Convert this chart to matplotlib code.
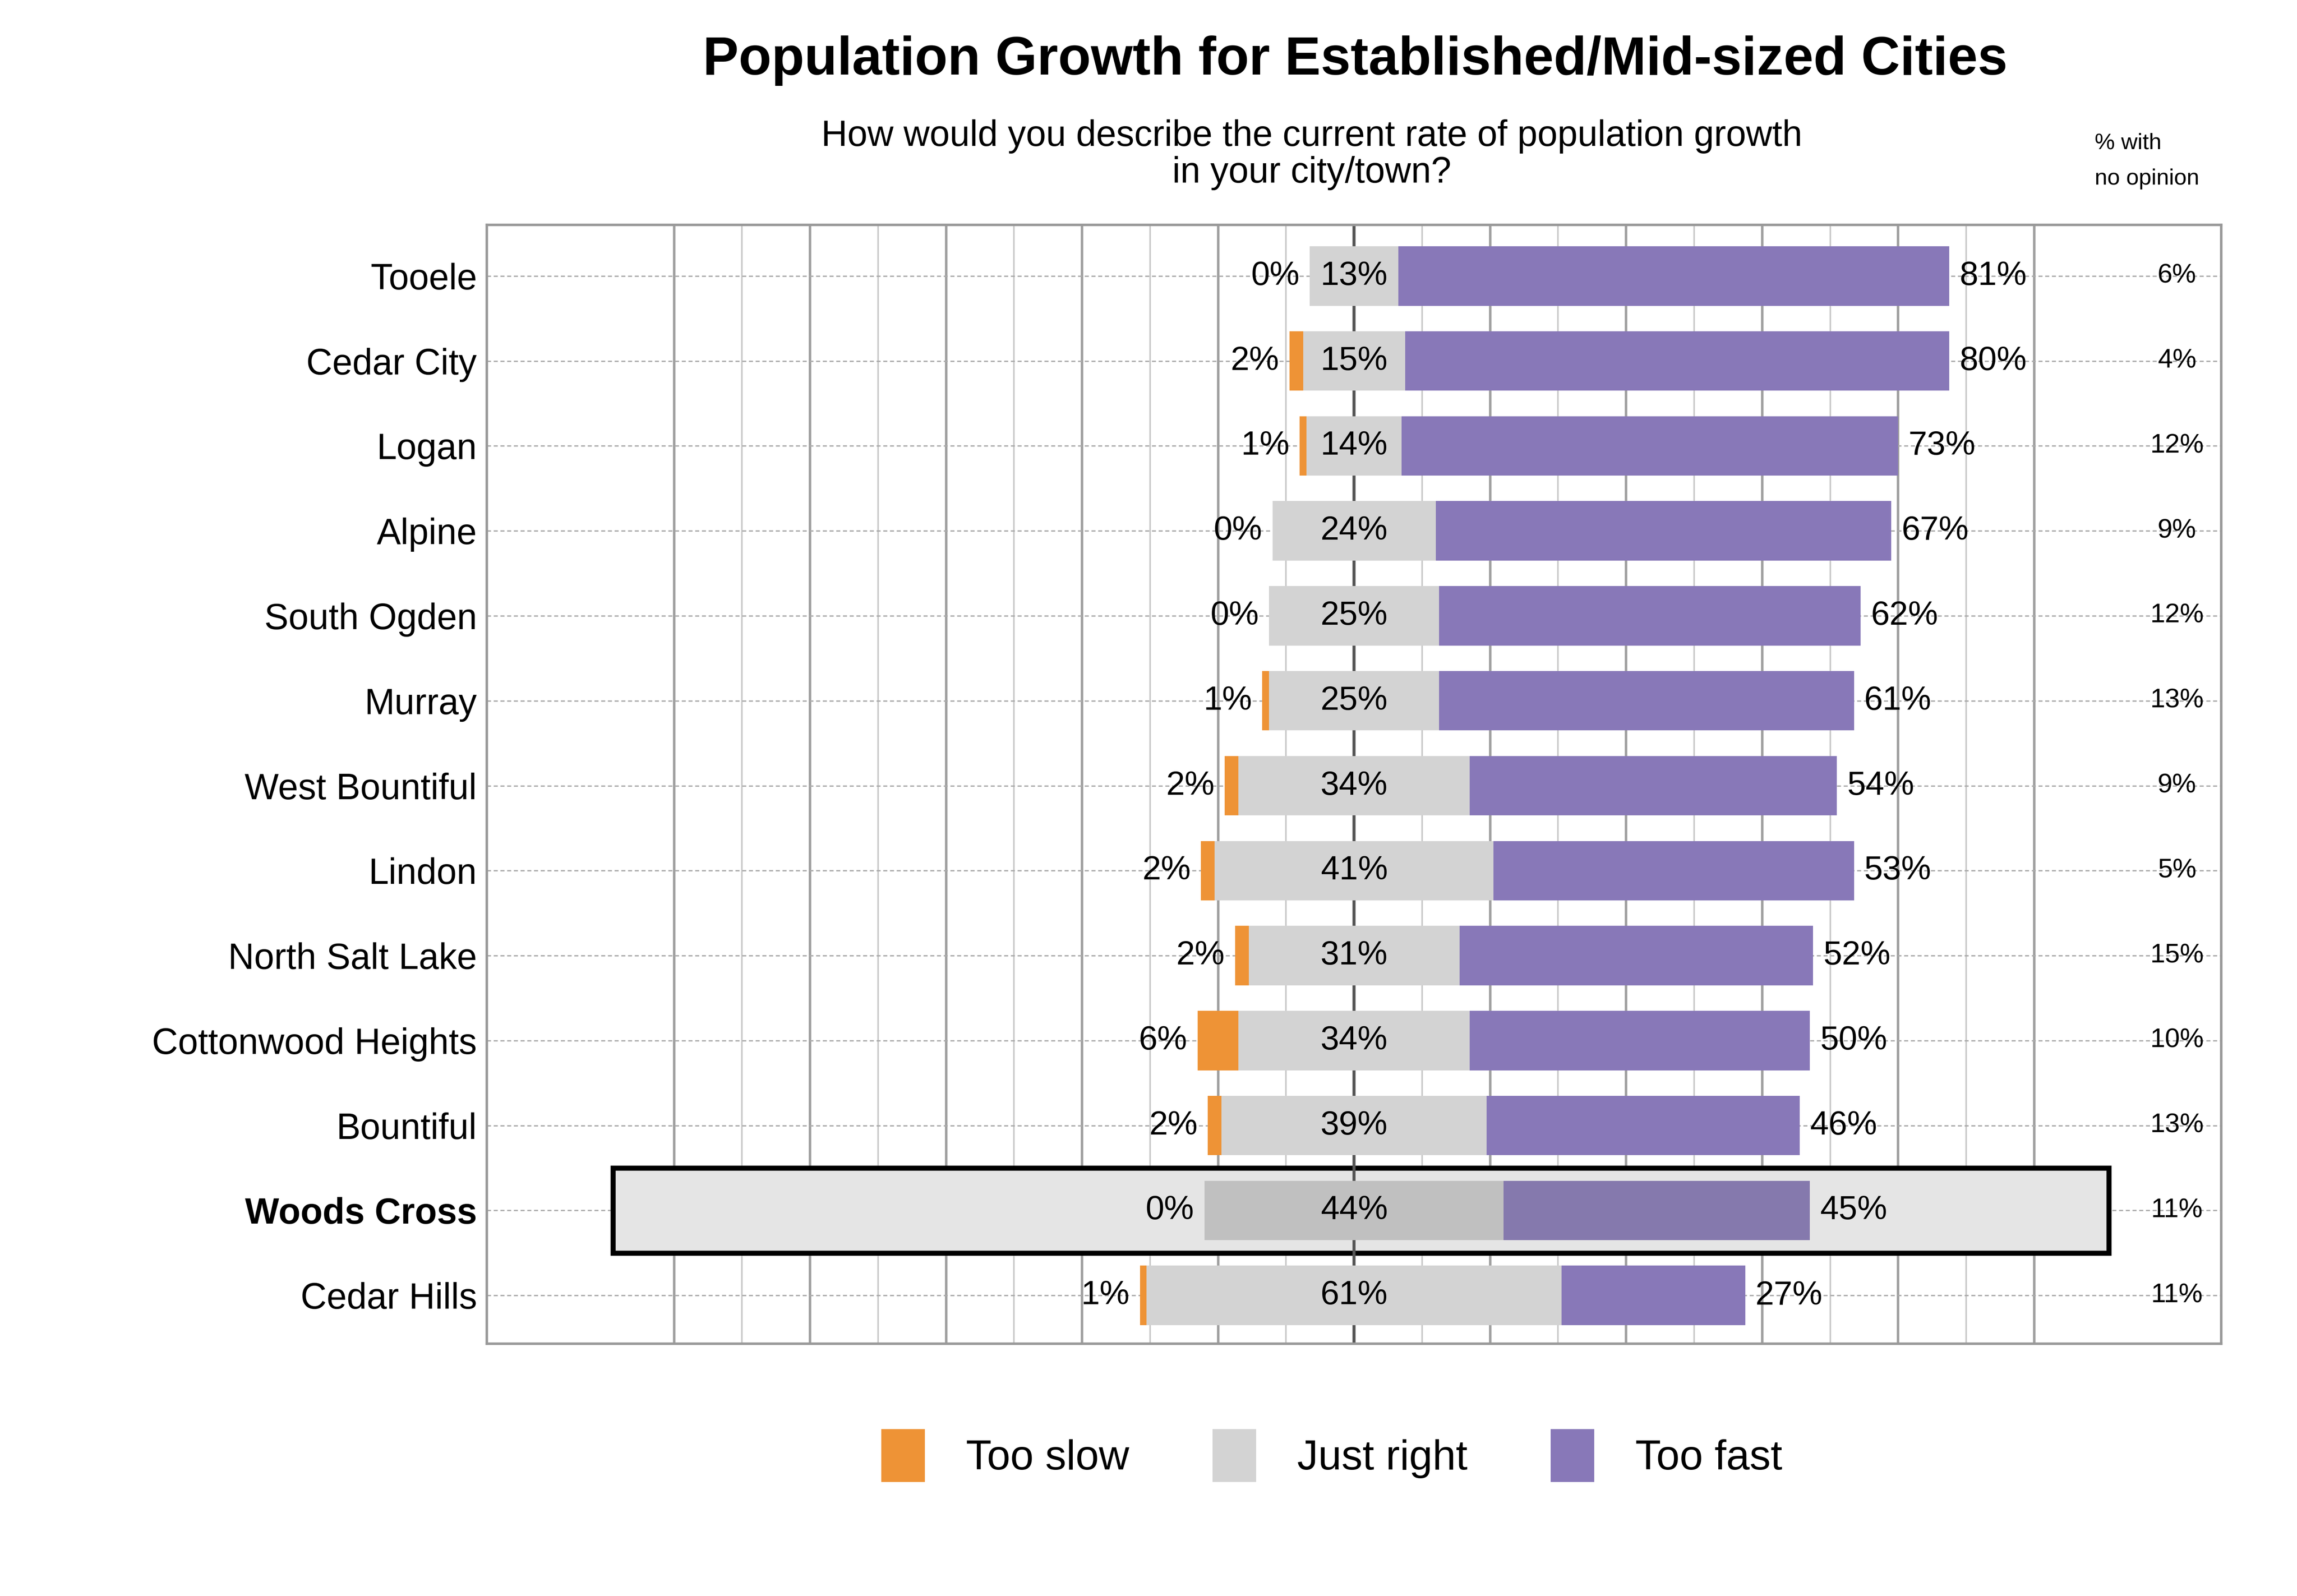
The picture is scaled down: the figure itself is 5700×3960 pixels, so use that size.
import numpy as np
import matplotlib.pyplot as plt
from matplotlib.patches import Rectangle

plt.rcParams['font.family'] = ['Liberation Sans', 'DejaVu Sans']

# Data
cities = ["Tooele", "Cedar City", "Logan", "Alpine", "South Ogden", "Murray",
          "West Bountiful", "Lindon", "North Salt Lake", "Cottonwood Heights",
          "Bountiful", "Woods Cross", "Cedar Hills"]
too_slow = [0, 2, 1, 0, 0, 1, 2, 2, 2, 6, 2, 0, 1]
just_right = [13, 15, 14, 24, 25, 25, 34, 41, 31, 34, 39, 44, 61]
too_fast = [81, 80, 73, 67, 62, 61, 54, 53, 52, 50, 46, 45, 27]
no_opinion = [6, 4, 12, 9, 12, 13, 9, 5, 15, 10, 13, 11, 11]
highlight = "Woods Cross"

ORANGE = "#EE9336"
GRAY = "#D3D3D3"
PURPLE = "#8878B8"

fig = plt.figure(figsize=(19, 13.2), dpi=300)
ax = fig.add_axes([0.212, 0.158, 0.755, 0.701])

y = np.arange(len(cities))
h = 0.7
for i, c in enumerate(cities):
    hl = c == highlight
    g = "#C0C0C0" if hl else GRAY
    p = "#8579AD" if hl else PURPLE
    if hl:
        ax.add_patch(Rectangle((-109, i - 0.5), 220, 1.0, facecolor="#E5E5E5",
                               edgecolor="black", lw=3, zorder=1))
    jr = just_right[i]
    left = -jr / 2
    ax.barh(i, jr, left=left, height=h, color=g, zorder=3)
    ax.barh(i, too_slow[i], left=left - too_slow[i], height=h, color=ORANGE, zorder=3)
    ax.barh(i, too_fast[i], left=jr / 2, height=h, color=p, zorder=3)
    ax.text(0, i, f"{jr}%", ha="center", va="center", fontsize=20, zorder=4)
    ax.text(left - too_slow[i] - 1.5, i, f"{too_slow[i]}%", ha="right", va="center",
            fontsize=20, zorder=4)
    ax.text(jr / 2 + too_fast[i] + 1.5, i, f"{too_fast[i]}%", ha="left", va="center",
            fontsize=20, zorder=4)
    ax.text(121, i, f"{no_opinion[i]}%", ha="center", va="center", fontsize=16, zorder=4)

ax.set_xlim(-127.5, 127.5)
ax.set_ylim(len(cities) - 0.43, -0.6)
ax.set_yticks(y)
ax.set_yticklabels(cities, fontsize=21.5)
for lbl in ax.get_yticklabels():
    if lbl.get_text() == highlight:
        lbl.set_fontweight("bold")
ax.tick_params(axis="y", length=0, pad=6)
ax.set_xticks([])

for x in range(-100, 120, 20):
    ax.axvline(x, color="#A0A0A0", lw=1.5, zorder=0)
for x in range(-90, 110, 20):
    ax.axvline(x, color="#C8C8C8", lw=0.9, zorder=0)
ax.axvline(0, color="#555555", lw=1.8, zorder=2)
for i in y:
    ax.plot([-127.5, 127.5], [i, i], color="#AAAAAA", lw=0.8, ls=(0, (3, 2)), zorder=0.5)
for s in ax.spines.values():
    s.set_color("#999999")
    s.set_linewidth(1.5)

fig.text(0.59, 0.962, "Population Growth for Established/Mid-sized Cities",
         ha="center", va="center", fontsize=32, fontweight="bold")
fig.text(0.571, 0.903, "How would you describe the current rate of population growth\nin your city/town?",
         ha="center", va="center", fontsize=21.5, linespacing=1.1)
fig.text(0.912, 0.899, "% with\nno opinion", ha="left", va="center", fontsize=13.5,
         linespacing=1.9)

handles = [Rectangle((0, 0), 1, 1, color=c) for c in (ORANGE, GRAY, PURPLE)]
fig.legend(handles, ["Too slow", "Just right", "Too fast"], loc="center",
           bbox_to_anchor=(0.58, 0.088), ncol=3, frameon=False, fontsize=25,
           handlelength=1.0, handleheight=1.5, columnspacing=2.0, handletextpad=1.0)

fig.savefig("out.png", dpi=300)
